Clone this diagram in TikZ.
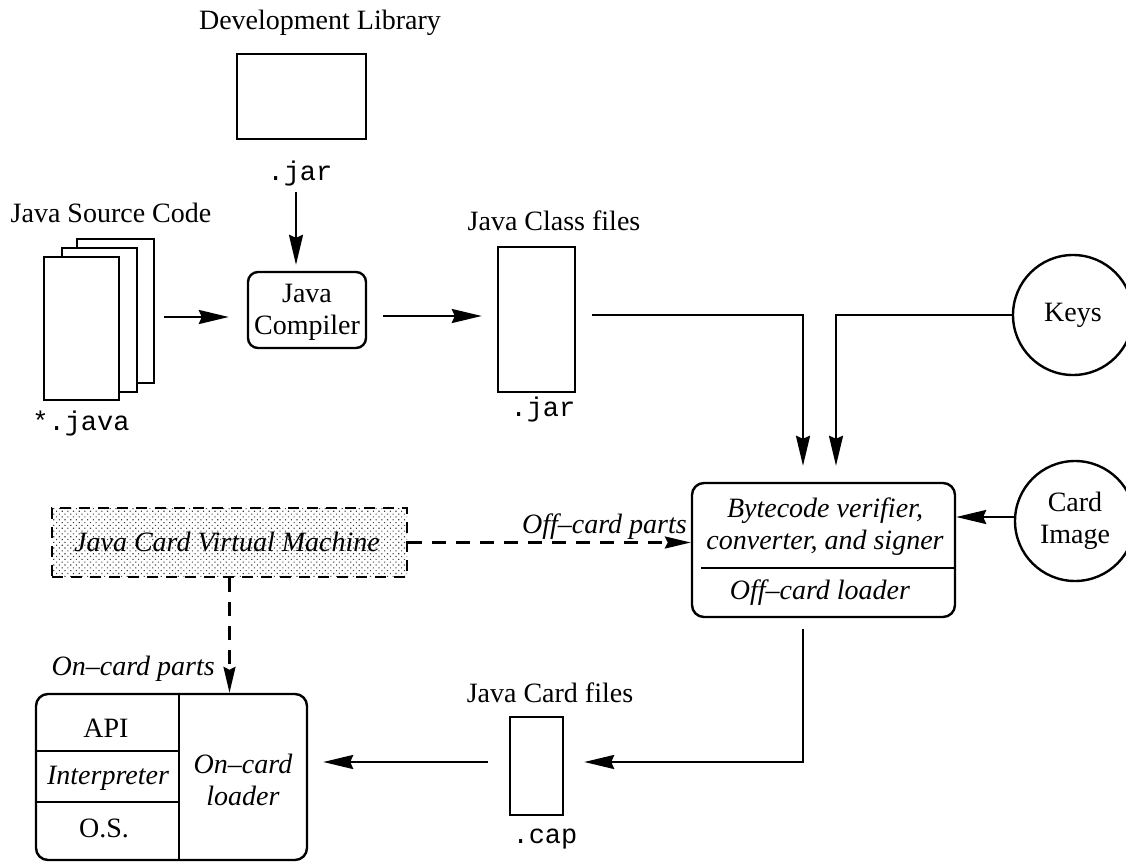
\documentclass[tikz,border=0pt]{standalone}
\usepackage{fontspec}
\setmainfont{Liberation Serif}
\setmonofont{Liberation Mono}
\usetikzlibrary{arrows.meta,calc,patterns.meta}
\begin{document}
\begin{tikzpicture}[x=0.5pt,y=-0.5pt,line width=1.2pt,
  every node/.style={font=\fontsize{14}{16}\selectfont, inner sep=0pt},
  lbl/.style={anchor=base},
  mono/.style={anchor=base, font=\fontsize{13.5}{16}\selectfont\ttfamily},
  it/.style={font=\fontsize{14}{16}\selectfont\itshape},
  plainbox/.style={draw, fill=white, line width=1.2pt},
  rbox/.style={draw, fill=white, rounded corners=6pt, line width=1.2pt},
  circ/.style={draw, circle, minimum size=60pt, align=center},
  arr/.style={-{Stealth[length=15pt,width=7pt,inset=1.5pt]}},
  darr/.style={dash pattern=on 7pt off 5pt, -{Stealth[length=13pt,width=6pt,inset=1.5pt]}},
  vmbox/.style={draw, dash pattern=on 5.5pt off 4pt, pattern={Dots[distance=2pt,radius=0.4pt,angle=45]}, pattern color=black!75}
]
\useasboundingbox[fill=white] (0,0) rectangle (1126,862);

% Development library
\node[lbl] (devlbl) at (320,29) {Development Library};
\node[plainbox, minimum width=64.5pt, minimum height=42.5pt] (dev) at (301.5,96.5) {};
\node[mono] (devjar) at (300,180) {.jar};

% Java source pages
\node[lbl] (srclbl) at (111,222) {Java Source Code};
\node[plainbox, minimum width=38.5pt, minimum height=72pt] (back) at (115.5,311) {};
\node[plainbox, minimum width=37.5pt, minimum height=72pt] (mid) at (99.5,320) {};
\node[plainbox, minimum width=37.5pt, minimum height=71.5pt] (front) at (81.5,328.5) {};
\node[mono] (srcjava) at (81,430) {*.java};

% Compiler
\node[rbox, rounded corners=5pt, minimum width=59pt, minimum height=38pt] (comp) at (307,310) {};
\node[align=center] (comptxt) at (307,312) {Java\\Compiler};

% Class files
\node[lbl] (classlbl) at (554,230) {Java Class files};
\node[plainbox, minimum width=38.5pt, minimum height=72.5pt] (class) at (536.5,319.5) {};
\node[mono] (classjar) at (543,416) {.jar};

% Keys and Card image
\node[circ] (keys) at (1073,315) {Keys};
\node[circ] (card) at (1075,521) {Card\\Image};

% Bytecode verifier box
\node[rbox, minimum width=131.5pt, minimum height=67pt] (bc) at (823.5,550) {};
\node[it, align=center] (bctxt) at (825,527) {Bytecode verifier,\\converter, and signer};
\node[it] (offld) at (820,593) {Off–card loader};
\draw ($(bc.west)+(10,18)$) -- ($(bc.east)+(0,18)$);

% Java Card files
\node[lbl] (caplbl) at (550,702) {Java Card files};
\node[plainbox, minimum width=26.5pt, minimum height=49pt] (cap) at (536.5,766) {};
\node[mono] (capext) at (545,843) {.cap};

% Virtual machine
\node[vmbox, minimum width=177.5pt, minimum height=34.5pt] (vm) at (229.5,542.5) {};
\node[it] (vmtxt) at (227,542) {Java Card Virtual Machine};

% On-card box
\node[rbox, minimum width=135.5pt, minimum height=83pt] (bot) at (171.5,777) {};
\draw ($(bot.north west)+(144,0)$) -- ($(bot.south west)+(144,0)$);
\draw ($(bot.north west)+(0,58)$) -- ($(bot.north west)+(144,58)$);
\draw ($(bot.north west)+(0,109)$) -- ($(bot.north west)+(144,109)$);
\node (api) at (106,728) {API};
\node[it] (interp) at (108,778) {Interpreter};
\node (os) at (104,828) {O.S.};
\node[it, align=center] (onld) at (243,780) {On–card\\loader};

% Connectors
\coordinate (a1) at (296,192);
\draw[arr] (a1) -- ($(a1 |- comp.north)+(0,-6)$);
\draw[arr] ($(back.east |- comp.west)+(9,7)$) -- ($(comp.west)+(-18,7)$);
\draw[arr] ($(comp.east)+(16,6)$) -- ($(class.west)+(-15,-3.5)$);
\draw[arr] ($(class.east)+(16,-4.5)$) -| ($(bc.north)+(-20.5,-16)$);
\draw[arr] (keys.west) -| ($(bc.north)+(12.5,-16)$);
\draw[arr] ($(card.west)+(0,-4)$) -- ($(card.west -| bc.east)+(0,-4)$);
\draw[arr] ($(bc.south)+(-20.5,11)$) |- ($(cap.east)+(20,-4)$);
\draw[arr] ($(cap.west)+(-21,-4)$) -- ($(bot.east |- cap.west)+(15,-4)$);
\draw[darr] (vm.east) -- (vm.east -| bc.west);
\draw[darr] (vm.south) -- (vm.south |- bot.north);
\node[it, anchor=base east] (offparts) at (688,533) {Off–card parts};
\node[it, anchor=base east] (onparts) at (216,675) {On–card parts};
\end{tikzpicture}
\end{document}
